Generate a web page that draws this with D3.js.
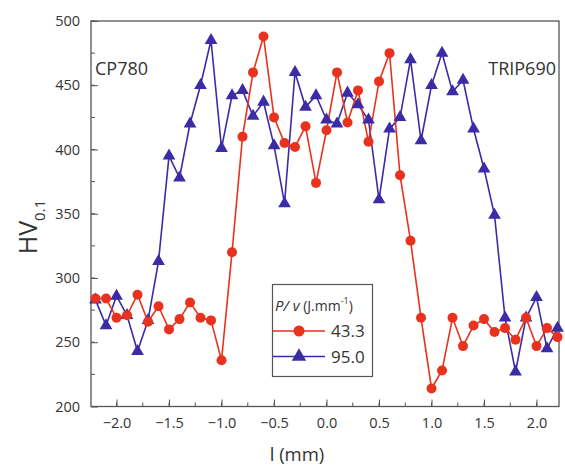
<!DOCTYPE html>
<html><head><meta charset="utf-8">
<script src="https://cdn.jsdelivr.net/npm/d3@7"></script>
<style>body{margin:0;background:#fff}svg{display:block}text{font-family:"Open Sans",sans-serif;fill:#333}</style>
</head><body><div id="c"></div>
<script>
const positions = [-2.2,-2.1,-2.0,-1.9,-1.8,-1.7,-1.6,-1.5,-1.4,-1.3,-1.2,-1.1,-1.0,-0.9,-0.8,-0.7,-0.6,-0.5,-0.4,-0.3,-0.2,-0.1,0.0,0.1,0.2,0.3,0.4,0.5,0.6,0.7,0.8,0.9,1.0,1.1,1.2,1.3,1.4,1.5,1.6,1.7,1.8,1.9,2.0,2.1,2.2];
const hv43 = [284,284,269,271,287,266,278,260,268,281,269,267,236,320,410,460,488,425,405,402,418,374,415,460,421,446,406,453,475,380,329,269,214,228,269,247,263,268,258,261,252,269,247,261,254];
const hv95 = [283,263,286,271,243,267,313,395,378,420,450,485,401,442,446,426,437,403,358,460,433,442,423,420,444,435,423,361,416,425,470,407,450,475,445,454,416,385,349,269,227,269,285,245,261];
const xTicks = [-2.0,-1.5,-1.0,-0.5,0.0,0.5,1.0,1.5,2.0];
const yTicks = [200,250,300,350,400,450,500];
const seriesLabels = ["43.3","95.0"];

const W=565,H=468;
const svg=d3.select("#c").append("svg").attr("width",W).attr("height",H);
const L=91,R=559,T=21,B=406.5;
const x=d3.scaleLinear().domain([-2.243,2.214]).range([L,R]);
const y=d3.scaleLinear().domain([200,500]).range([B,T]);
const axisCol="#555";
const red="#e8321e", blue="#3b2ba6";

const xMinor=d3.range(-2.25,2.26,0.25).filter(v=>v>=-2.243&&v<=2.214);
const yMinor=d3.range(200,501,25);
const g=svg.append("g");
const xAx=d3.axisBottom(x).tickValues(xTicks).tickFormat(d3.format(".1f")).tickSizeInner(-7).tickSizeOuter(0).tickPadding(11);
const gx=g.append("g").attr("transform",`translate(0,${B})`).call(xAx);
gx.select(".domain").remove();
gx.selectAll("line").attr("stroke",axisCol);
gx.selectAll("text").attr("font-size",14.5).style("fill","#333").attr("font-family","Open Sans");
g.append("g").selectAll("line").data(xMinor).join("line")
 .attr("x1",d=>x(d)).attr("x2",d=>x(d)).attr("y1",B).attr("y2",B-4).attr("stroke",axisCol);
const yAx=d3.axisLeft(y).tickValues(yTicks).tickSizeInner(-7).tickSizeOuter(0).tickPadding(11);
const gy=g.append("g").attr("transform",`translate(${L},0)`).call(yAx);
gy.select(".domain").remove();
gy.selectAll("line").attr("stroke",axisCol);
gy.selectAll("text").attr("font-size",14.5).style("fill","#333").attr("font-family","Open Sans");
g.append("g").selectAll("line").data(yMinor).join("line")
 .attr("x1",L).attr("x2",L+4).attr("y1",d=>y(d)).attr("y2",d=>y(d)).attr("stroke",axisCol);
svg.append("rect").attr("x",L).attr("y",T).attr("width",R-L).attr("height",B-T).attr("fill","none").attr("stroke",axisCol).attr("stroke-width",1.3);

const line=d3.line().x((d,i)=>x(positions[i])).y(d=>y(d));
svg.append("path").datum(hv95).attr("d",line).attr("fill","none").attr("stroke",blue).attr("stroke-width",1.6);
svg.append("path").datum(hv43).attr("d",line).attr("fill","none").attr("stroke",red).attr("stroke-width",1.6);
const tri=d3.symbol().type(d3.symbolTriangle).size(70);
svg.append("g").selectAll("path").data(hv95).join("path").attr("d",tri)
 .attr("transform",(d,i)=>`translate(${x(positions[i])},${y(d)})`).attr("fill",blue);
svg.append("g").selectAll("circle").data(hv43).join("circle")
 .attr("cx",(d,i)=>x(positions[i])).attr("cy",d=>y(d)).attr("r",5).attr("fill",red);

svg.append("text").attr("x",95).attr("y",75).attr("font-size",18).text("CP780");
svg.append("text").attr("x",556).attr("y",75).attr("text-anchor","end").attr("font-size",18).text("TRIP690");
svg.append("text").attr("x",297).attr("y",461).attr("text-anchor","middle").attr("font-size",18.5).text("l (mm)");
const yl=svg.append("text").attr("transform","translate(37,227) rotate(-90)").attr("text-anchor","middle").attr("font-size",25);
yl.append("tspan").text("HV");
yl.append("tspan").attr("font-size",15).attr("dy",8).text("0.1");

const lg=svg.append("g");
lg.append("rect").attr("x",272.5).attr("y",284.5).attr("width",100).attr("height",92).attr("fill","#fff").attr("stroke",axisCol).attr("stroke-width",1.2);
const lt=lg.append("text").attr("x",275).attr("y",311).attr("font-size",15);
lt.append("tspan").attr("font-style","italic").text("P/ v");
lt.append("tspan").attr("font-size",14).text(" (J.mm");
lt.append("tspan").attr("font-size",9).attr("dy",-7).text("-1");
lt.append("tspan").attr("font-size",14).attr("dy",7).text(")");
const ly=[331,356.5];
[red,blue].forEach((c,i)=>{
  lg.append("line").attr("x1",273).attr("x2",325).attr("y1",ly[i]).attr("y2",ly[i]).attr("stroke",c).attr("stroke-width",1.6);
  if(i===0) lg.append("circle").attr("cx",299).attr("cy",ly[i]).attr("r",5.5).attr("fill",c);
  else lg.append("path").attr("d",d3.symbol().type(d3.symbolTriangle).size(90)).attr("transform",`translate(299,${ly[i]})`).attr("fill",c);
  lg.append("text").attr("x",331).attr("y",ly[i]+6).attr("font-size",17).text(seriesLabels[i]);
});
</script></body></html>
